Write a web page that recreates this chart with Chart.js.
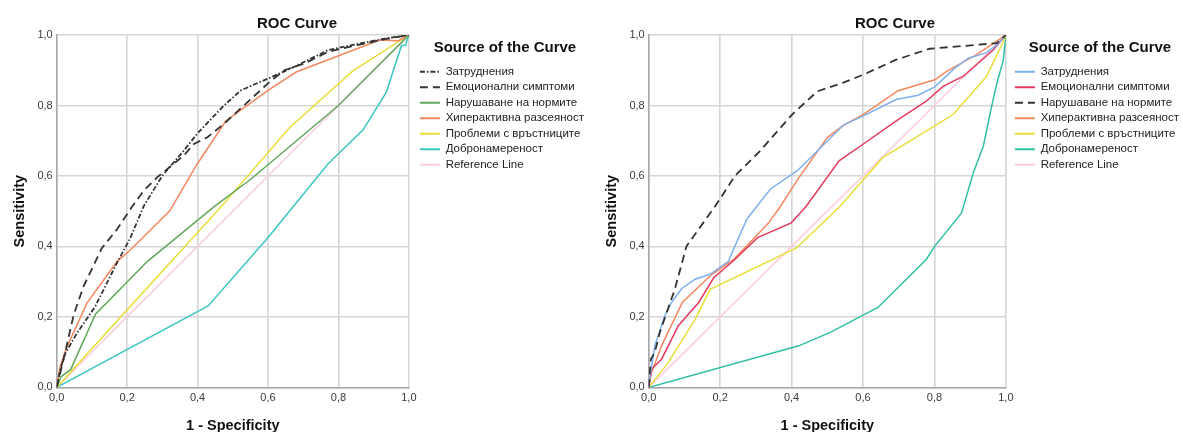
<!DOCTYPE html>
<html>
<head>
<meta charset="utf-8">
<script src="https://cdn.jsdelivr.net/npm/chart.js@4"></script>
<style>
  html, body { margin: 0; padding: 0; background: #fff; overflow: hidden; }
  #wrap { position: relative; width: 1183px; height: 432px; overflow: hidden; }
  .box { position: absolute; top: 0; height: 432px; }
  #leftBox { left: 0; width: 594px; }
  #rightBox { left: 592px; width: 606px; }
</style>
</head>
<body>
<div id="wrap">
  <div class="box" id="leftBox"><canvas id="leftChart"></canvas></div>
  <div class="box" id="rightBox"><canvas id="rightChart"></canvas></div>
</div>
<script>
// Series names (same in both charts)
const seriesNames = ['Затруднения', 'Емоционални симптоми', 'Нарушаване на нормите',
    'Хиперактивна разсеяност', 'Проблеми с връстниците', 'Добронамереност', 'Reference Line'];
const tickValues = [0, 0.2, 0.4, 0.6, 0.8, 1.0];

// Left chart: 1 - specificity (x) and sensitivity (y)
const L_zatrX = [0, 0.01, 0.024, 0.057, 0.109, 0.171, 0.209, 0.247, 0.3, 0.361, 0.399, 0.475, 0.523, 0.599, 0.665, 0.77, 0.837, 0.932, 1];
const L_zatrY = [0, 0.05, 0.096, 0.153, 0.229, 0.353, 0.424, 0.514, 0.601, 0.672, 0.72, 0.8, 0.843, 0.876, 0.905, 0.957, 0.971, 0.99, 1];
const L_emoX = [0, 0.019, 0.048, 0.076, 0.128, 0.171, 0.212, 0.247, 0.285, 0.361, 0.39, 0.428, 0.475, 0.599, 0.646, 0.703, 0.77, 0.837, 0.932, 1];
const L_emoY = [0, 0.077, 0.205, 0.286, 0.395, 0.448, 0.51, 0.558, 0.596, 0.658, 0.691, 0.71, 0.748, 0.862, 0.9, 0.919, 0.952, 0.968, 0.988, 1];
const L_normX = [0, 0.012, 0.04, 0.11, 0.257, 0.447, 0.55, 0.8, 1];
const L_normY = [0, 0.03, 0.051, 0.208, 0.357, 0.513, 0.59, 0.8, 1];
const L_hypX = [0, 0.01, 0.029, 0.086, 0.171, 0.209, 0.321, 0.399, 0.48, 0.6, 0.68, 0.917, 0.97, 1];
const L_hypY = [0, 0.06, 0.115, 0.239, 0.357, 0.39, 0.501, 0.634, 0.756, 0.843, 0.895, 0.986, 0.984, 1];
const L_peerX = [0, 0.2, 0.468, 0.661, 0.841, 1];
const L_peerY = [0, 0.22, 0.514, 0.737, 0.898, 1];
const L_kindX = [0, 0.43, 0.599, 0.77, 0.87, 0.936, 0.979, 0.99, 1];
const L_kindY = [0, 0.231, 0.424, 0.634, 0.731, 0.838, 0.97, 0.971, 1];

// Right chart
const R_zatrX = [0, 0.003, 0.017, 0.028, 0.045, 0.064, 0.092, 0.13, 0.172, 0.223, 0.275, 0.303, 0.341, 0.416, 0.486, 0.547, 0.604, 0.693, 0.754, 0.801, 0.857, 0.895, 0.946, 0.975, 1];
const R_zatrY = [0, 0.024, 0.118, 0.151, 0.203, 0.241, 0.28, 0.307, 0.321, 0.358, 0.478, 0.514, 0.563, 0.615, 0.685, 0.746, 0.772, 0.817, 0.829, 0.853, 0.906, 0.934, 0.95, 0.972, 1];
const R_emoX = [0, 0.008, 0.036, 0.083, 0.14, 0.182, 0.238, 0.305, 0.399, 0.441, 0.533, 0.6, 0.693, 0.777, 0.824, 0.881, 0.965, 1];
const R_emoY = [0, 0.052, 0.08, 0.175, 0.241, 0.311, 0.36, 0.425, 0.467, 0.514, 0.643, 0.69, 0.756, 0.812, 0.854, 0.883, 0.958, 1];
const R_normX = [0, 0.006, 0.017, 0.031, 0.073, 0.106, 0.186, 0.242, 0.308, 0.402, 0.472, 0.543, 0.6, 0.693, 0.787, 0.918, 0.975, 1];
const R_normY = [0, 0.08, 0.099, 0.156, 0.278, 0.401, 0.514, 0.601, 0.667, 0.775, 0.84, 0.864, 0.887, 0.93, 0.961, 0.972, 0.977, 1];
const R_hypX = [0, 0.008, 0.036, 0.094, 0.177, 0.238, 0.336, 0.369, 0.421, 0.5, 0.543, 0.608, 0.698, 0.801, 0.834, 0.918, 1];
const R_hypY = [0, 0.042, 0.118, 0.241, 0.321, 0.363, 0.467, 0.514, 0.596, 0.709, 0.742, 0.779, 0.842, 0.873, 0.897, 0.944, 1];
const R_peerX = [0, 0.055, 0.13, 0.172, 0.414, 0.536, 0.655, 0.801, 0.853, 0.946, 0.99, 1];
const R_peerY = [0, 0.071, 0.193, 0.278, 0.396, 0.514, 0.652, 0.742, 0.775, 0.883, 0.975, 1];
const R_kindX = [0, 0.42, 0.51, 0.6, 0.641, 0.777, 0.801, 0.876, 0.909, 0.937, 0.956, 0.975, 0.993, 1];
const R_kindY = [0, 0.118, 0.157, 0.205, 0.226, 0.363, 0.401, 0.495, 0.61, 0.685, 0.779, 0.864, 0.93, 1];

// Reference line (both charts)
const refX = [0, 1];
const refY = [0, 1];

const FONT = "'Liberation Sans', Arial, sans-serif";

function pts(xs, ys) {
    return xs.map((x, i) => ({ x: x, y: ys[i] }));
}

function series(label, xs, ys, color, dash, order) {
    return {
        label: label,
        data: pts(xs, ys),
        borderColor: color,
        backgroundColor: color,
        borderWidth: dash ? 1.8 : 1.5,
        borderDash: dash || [],
        pointRadius: 0,
        showLine: true,
        tension: 0,
        order: order
    };
}

// moves the legend next to the plot and centres the title where SPSS puts them
const placeBoxes = {
    id: 'placeBoxes',
    afterLayout(chart, args, opts) {
        const lg = chart.legend;
        const lw = lg.right - lg.left;
        lg.left = chart.chartArea.right + opts.legendGap;
        lg.right = lg.left + lw;
        const tb = chart.titleBlock;
        const tw = tb.right - tb.left;
        tb.left = opts.titleCenter - tw / 2;
        tb.right = tb.left + tw;
    }
};

function axis(title, pad) {
    return {
        type: 'linear',
        min: 0,
        max: 1,
        afterBuildTicks: s => { s.ticks = tickValues.map(v => ({ value: v })); },
        ticks: {
            color: '#3a3a3a',
            font: { family: FONT, size: 11 },
            padding: 4,
            callback: v => v.toFixed(1).replace('.', ',')
        },
        grid: { color: '#d6d6d6', lineWidth: 1.6, drawTicks: false },
        border: { color: '#a8a8a8', width: 1.5 },
        title: {
            display: true,
            text: title,
            color: '#111',
            font: { family: FONT, size: 14.5, weight: 'bold' },
            padding: pad
        }
    };
}

function makeChart(id, datasets, rightPad, legendGap, titleCenter) {
    new Chart(document.getElementById(id), {
        type: 'scatter',
        data: { datasets: datasets },
        plugins: [placeBoxes],
        options: {
            responsive: true,
            maintainAspectRatio: false,
            animation: false,
            layout: { padding: { left: 0, right: rightPad, top: 0, bottom: -3 } },
            plugins: {
                placeBoxes: { legendGap: legendGap, titleCenter: titleCenter },
                title: {
                    display: true,
                    text: 'ROC Curve',
                    color: '#111',
                    font: { family: FONT, size: 15, weight: 'bold' },
                    padding: { top: 15, bottom: 2 }
                },
                legend: {
                    position: 'right',
                    align: 'start',
                    fullSize: false,
                    maxWidth: 260,
                    title: {
                        display: true,
                        text: 'Source of the Curve',
                        color: '#111',
                        font: { family: FONT, size: 15, weight: 'bold' },
                        padding: { top: 5, bottom: 4 }
                    },
                    labels: {
                        color: '#222',
                        font: { family: FONT, size: 11.5 },
                        usePointStyle: true,
                        pointStyleWidth: 20,
                        padding: 4,
                        generateLabels: chart => {
                            const items = Chart.defaults.plugins.legend.labels.generateLabels(chart);
                            items.forEach(it => {
                                const ds = chart.data.datasets[it.datasetIndex];
                                it.pointStyle = 'line';
                                it.lineWidth = 1.8;
                                it.strokeStyle = ds.borderColor;
                                it.lineDash = ds.borderDash;
                            });
                            return items.sort((a, b) => a.datasetIndex - b.datasetIndex);
                        }
                    }
                },
                tooltip: { enabled: false }
            },
            scales: {
                x: axis('1 - Specificity', { top: 9, bottom: 0 }),
                y: axis('Sensitivity', { top: 11, bottom: 5 })
            }
        }
    });
}

makeChart('leftChart', [
    series(seriesNames[0], L_zatrX, L_zatrY, '#333333', [5, 2, 1.5, 2], 1),
    series(seriesNames[1], L_emoX, L_emoY, '#333333', [8, 5], 2),
    series(seriesNames[2], L_normX, L_normY, '#62a85c', null, 3),
    series(seriesNames[3], L_hypX, L_hypY, '#f5875f', null, 4),
    series(seriesNames[4], L_peerX, L_peerY, '#e6df3c', null, 5),
    series(seriesNames[5], L_kindX, L_kindY, '#3cc6c2', null, 6),
    series(seriesNames[6], refX, refY, '#fbcde0', null, 7)
], 7, 7, 297);

makeChart('rightChart', [
    series(seriesNames[0], R_zatrX, R_zatrY, '#7fb0ee', null, 2),
    series(seriesNames[1], R_emoX, R_emoY, '#e23a5e', null, 3),
    series(seriesNames[2], R_normX, R_normY, '#333333', [8, 5], 1),
    series(seriesNames[3], R_hypX, R_hypY, '#f5875f', null, 4),
    series(seriesNames[4], R_peerX, R_peerY, '#e6df3c', null, 5),
    series(seriesNames[5], R_kindX, R_kindY, '#2fbfa5', null, 6),
    series(seriesNames[6], refX, refY, '#fbcde0', null, 7)
], 14, 5, 303);
</script>
</body>
</html>
